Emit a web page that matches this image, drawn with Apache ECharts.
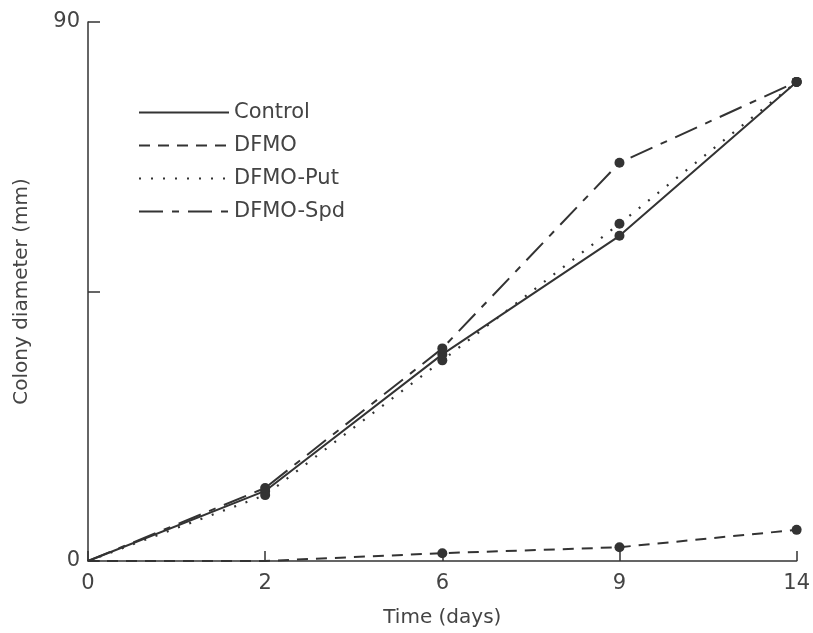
<!DOCTYPE html>
<html>
<head>
<meta charset="utf-8">
<script src="https://cdn.jsdelivr.net/npm/echarts@6/dist/echarts.min.js"></script>
<style>
  html, body { margin: 0; padding: 0; background: #fff; }
  #chart { width: 813px; height: 633px; }
</style>
</head>
<body>
<div id="chart"></div>
<script>
// days (drawn equally spaced, as in the original figure)
const days = ['0', '2', '6', '9', '14'];

const control  = [0, 11.7, 34.5, 54.3, 80];
const dfmo     = [0, 0, 1.3, 2.3, 5.2];
const dfmoPut  = [0, 11.0, 33.5, 56.3, 80];
const dfmoSpd  = [0, 12.2, 35.5, 66.5, 80];

const yTicks = [0, 45, 90];

const ink = '#333';
const font = 'DejaVu Sans';

const chart = echarts.init(document.getElementById('chart'));

// points at or below zero carry no dot in the original
const makeSeries = (name, data, type, width) => ({
  name,
  type: 'line',
  data,
  symbol: (v) => (v <= 0 ? 'none' : 'circle'),
  symbolSize: 10,
  itemStyle: { color: ink },
  lineStyle: { color: ink, width: width || 2, type },
  z: 3
});

chart.setOption({
  animation: false,
  backgroundColor: '#fff',
  grid: { left: 88, right: 16, top: 22, bottom: 71 },
  legend: {
    orient: 'vertical',
    left: 133,
    top: 97,
    itemWidth: 90,
    itemHeight: 14,
    itemGap: 12,
    itemStyle: { opacity: 0 },
    textStyle: { color: '#444', fontSize: 21, fontFamily: font },
    data: ['Control', 'DFMO', 'DFMO-Put', 'DFMO-Spd']
  },
  xAxis: {
    type: 'category',
    data: days,
    boundaryGap: false,
    name: 'Time (days)',
    nameLocation: 'middle',
    nameGap: 47,
    nameTextStyle: { color: '#444', fontSize: 20, fontFamily: font },
    axisLine: { lineStyle: { color: ink, width: 1.5 } },
    axisTick: { inside: true, length: 10, lineStyle: { color: ink, width: 1.5 } },
    axisLabel: { color: '#444', fontSize: 21, fontFamily: font, margin: 12 },
    splitLine: { show: false }
  },
  yAxis: {
    type: 'value',
    min: yTicks[0],
    max: yTicks[yTicks.length - 1],
    interval: yTicks[1] - yTicks[0],
    name: 'Colony diameter (mm)',
    nameLocation: 'middle',
    nameGap: 56,
    nameTextStyle: { color: '#444', fontSize: 20, fontFamily: font },
    axisLine: { show: true, lineStyle: { color: ink, width: 1.5 } },
    axisTick: { show: true, inside: true, length: 12, lineStyle: { color: ink, width: 1.5 } },
    axisLabel: {
      color: '#444', fontSize: 21, fontFamily: font, margin: 8,
      formatter: v => (v === 45 ? '' : String(v))
    },
    splitLine: { show: false }
  },
  series: [
    makeSeries('Control', control, 'solid'),
    makeSeries('DFMO', dfmo, [11, 8]),
    makeSeries('DFMO-Put', dfmoPut, [2, 10], 2.2),
    makeSeries('DFMO-Spd', dfmoSpd, [24, 9, 7, 9])
  ]
});
</script>
</body>
</html>
